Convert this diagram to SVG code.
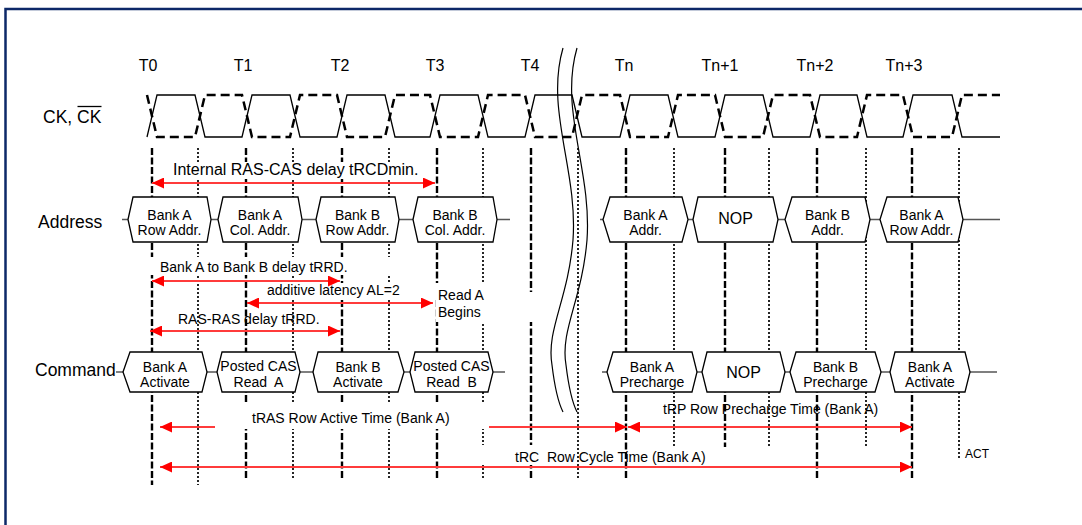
<svg xmlns="http://www.w3.org/2000/svg" width="1082" height="525" viewBox="0 0 1082 525">
<style>
text{font-family:"Liberation Sans",Arial,sans-serif;fill:#000}
.big{font-size:17.5px}
.tl{font-size:16px;text-anchor:middle}
.bx{font-size:14px;text-anchor:middle}
.nop{font-size:16px;text-anchor:middle}
.lb{font-size:14px}
.box{fill:#fff;stroke:#000;stroke-width:1.3}
.bus{stroke:#555;stroke-width:1.5;fill:none}
.vd{stroke:#000;stroke-width:2.4;stroke-dasharray:7 2.5;fill:none}
.vo{stroke:#000;stroke-width:1.7;stroke-dasharray:2 2;fill:none}
.bg{fill:#fff}
.arr{stroke:#ff3b3b;stroke-width:2;fill:none}
.brk{stroke:#000;stroke-width:1.2;fill:none}
</style>
<defs>
<marker id="ah" viewBox="0 0 12 11" refX="12" refY="5.5" markerWidth="12" markerHeight="11" markerUnits="userSpaceOnUse" orient="auto-start-reverse">
<path d="M0,0 L12,5.5 L0,11 z" fill="#ff0000"/>
</marker>
</defs>
<rect x="0" y="0" width="1082" height="525" fill="#fff"/>
<rect x="5.5" y="9" width="1100" height="540" fill="none" stroke="#0d2868" stroke-width="2.5"/>

<g id="grid">
<path class="vd" d="M152,148V485M246,148V480M342,148V480M437,148V480M531,148V480M626,148V480M725,148V447M817,148V480M912,148V480"/>
<path class="vo" d="M198,148V485M293,148V480M389,148V480M483,148V480M578,148V480M674,148V447M769,148V447M866,148V447M959,148V458"/>
</g>

<g id="label-bgs">
<rect class="bg" x="165" y="162" width="262" height="17"/>
<rect class="bg" x="150" y="257" width="252" height="18"/>
<rect class="bg" x="262" y="283" width="225" height="16"/>
<rect class="bg" x="436" y="292" width="104" height="30"/>
<rect class="bg" x="215" y="404" width="272" height="25"/>
<rect class="bg" x="480" y="445" width="80" height="20"/>
</g>

<g id="clock">
<path fill="none" stroke="#000" stroke-width="1.3" d="M147,137 L157,95 L195,95 L205,137 L242,137 L252,95 L290,95 L300,137 L337,137 L347,95 L385,95 L395,137 L430,137 L440,95 L478,95 L488,137 L525,137 L535,95 L572,95 L582,137 L620,137 L630,95 L668,95 L678,137 L715,137 L725,95 L763,95 L773,137 L810,137 L820,95 L857,95 L867,137 L903,137 L913,95 L952,95 L962,137 L1000,137"/>
<path fill="none" stroke="#000" stroke-width="2.5" stroke-dasharray="9 5" d="M147,95 L157,137 L195,137 L205,95 L242,95 L252,137 L290,137 L300,95 L337,95 L347,137 L385,137 L395,95 L430,95 L440,137 L478,137 L488,95 L525,95 L535,137 L572,137 L582,95 L620,95 L630,137 L668,137 L678,95 L715,95 L725,137 L763,137 L773,95 L810,95 L820,137 L857,137 L867,95 L903,95 L913,137 L952,137 L962,95 L1000,95"/>
</g>

<g id="clock-labels">
<text class="tl" x="148" y="71">T0</text>
<text class="tl" x="243" y="71">T1</text>
<text class="tl" x="340" y="71">T2</text>
<text class="tl" x="435" y="71">T3</text>
<text class="tl" x="530" y="71">T4</text>
<text class="tl" x="624" y="71">Tn</text>
<text class="tl" x="720" y="71">Tn+1</text>
<text class="tl" x="815" y="71">Tn+2</text>
<text class="tl" x="904" y="71">Tn+3</text>
</g>

<g id="row-labels">
<text class="big" x="43" y="123">CK, CK</text>
<line x1="77.5" y1="106.5" x2="101.5" y2="106.5" stroke="#000" stroke-width="1.3"/>
<text class="big" x="38" y="228">Address</text>
<text class="big" x="35" y="376">Command</text>
</g>

<g id="buses">
<path class="bus" d="M122,219.5H510M600,219.5H1000M116,372H505M602,372H997"/>
</g>

<g id="addr-1"><polygon class="box" points="128,219.5 133,197 207,197 211,219.5 207,242 133,242"/><text class="bx" x="169.5" y="220">Bank A</text><text class="bx" x="169.5" y="235">Row Addr.</text></g>
<g id="addr-2"><polygon class="box" points="218,219.5 223,197 298,197 302,219.5 298,242 223,242"/><text class="bx" x="260" y="220">Bank A</text><text class="bx" x="260" y="235">Col. Addr.</text></g>
<g id="addr-3"><polygon class="box" points="316,219.5 321,197 395,197 399,219.5 395,242 321,242"/><text class="bx" x="357.5" y="220">Bank B</text><text class="bx" x="357.5" y="235">Row Addr.</text></g>
<g id="addr-4"><polygon class="box" points="413,219.5 418,197 493,197 497,219.5 493,242 418,242"/><text class="bx" x="455" y="220">Bank B</text><text class="bx" x="455" y="235">Col. Addr.</text></g>
<g id="addr-5"><polygon class="box" points="603,219.5 610,197 682,197 688,219.5 682,242 610,242"/><text class="bx" x="645.5" y="220">Bank A</text><text class="bx" x="645.5" y="235">Addr.</text></g>
<g id="addr-6"><polygon class="box" points="693,219.5 698,197 773,197 778,219.5 773,242 698,242"/><text class="nop" x="735.5" y="223.5">NOP</text></g>
<g id="addr-7"><polygon class="box" points="785,219.5 792,197 865,197 870,219.5 865,242 792,242"/><text class="bx" x="827.5" y="220">Bank B</text><text class="bx" x="827.5" y="235">Addr.</text></g>
<g id="addr-8"><polygon class="box" points="880,219.5 887,197 958,197 963,219.5 958,242 887,242"/><text class="bx" x="921.5" y="220">Bank A</text><text class="bx" x="921.5" y="235">Row Addr.</text></g>

<g id="cmd-1"><polygon class="box" points="123,372 130,352 202,352 207,372 202,392 130,392"/><text class="bx" x="165" y="372">Bank A</text><text class="bx" x="165" y="387">Activate</text></g>
<g id="cmd-2"><polygon class="box" points="217,372 222,352 295,352 300,372 295,392 222,392"/><text class="bx" x="258.5" y="371">Posted CAS</text><text class="bx" x="258.5" y="387" xml:space="preserve">Read  A</text></g>
<g id="cmd-3"><polygon class="box" points="313,372 318,352 398,352 404,372 398,392 318,392"/><text class="bx" x="358" y="372">Bank B</text><text class="bx" x="358" y="387">Activate</text></g>
<g id="cmd-4"><polygon class="box" points="410,372 415,352 488,352 493,372 488,392 415,392"/><text class="bx" x="451.5" y="371">Posted CAS</text><text class="bx" x="451.5" y="387" xml:space="preserve">Read  B</text></g>
<g id="cmd-5"><polygon class="box" points="607,372 613,352 692,352 697,372 692,392 613,392"/><text class="bx" x="652" y="372">Bank A</text><text class="bx" x="652" y="387">Precharge</text></g>
<g id="cmd-6"><polygon class="box" points="702,372 707,352 780,352 785,372 780,392 707,392"/><text class="nop" x="743.5" y="377.5">NOP</text></g>
<g id="cmd-7"><polygon class="box" points="790,372 796,352 875,352 881,372 875,392 796,392"/><text class="bx" x="835.5" y="372">Bank B</text><text class="bx" x="835.5" y="387">Precharge</text></g>
<g id="cmd-8"><polygon class="box" points="890,372 895,352 965,352 970,372 965,392 895,392"/><text class="bx" x="930" y="372">Bank A</text><text class="bx" x="930" y="387">Activate</text></g>

<g id="break">
<path class="brk" d="M563,48 C545,110 578,170 573,240 C568,300 546,330 552,365 C555,390 558,402 563,412"/>
<path class="brk" d="M577,48 C559,110 592,170 587,240 C582,300 560,330 566,365 C569,390 572,402 577,412"/>
</g>

<g id="connectors">
<line class="arr" x1="152" y1="183" x2="435" y2="183" marker-start="url(#ah)" marker-end="url(#ah)"/>
<line class="arr" x1="152" y1="281" x2="340" y2="281" marker-start="url(#ah)" marker-end="url(#ah)"/>
<line class="arr" x1="247" y1="303" x2="433" y2="303" marker-start="url(#ah)" marker-end="url(#ah)"/>
<line class="arr" x1="150" y1="331" x2="340" y2="331" marker-start="url(#ah)" marker-end="url(#ah)"/>
<line class="arr" x1="215" y1="427" x2="160" y2="427" marker-end="url(#ah)"/>
<line class="arr" x1="489" y1="427" x2="627" y2="427" marker-end="url(#ah)"/>
<line class="arr" x1="628" y1="427" x2="912" y2="427" marker-start="url(#ah)" marker-end="url(#ah)"/>
<line class="arr" x1="160" y1="467" x2="912" y2="467" marker-start="url(#ah)" marker-end="url(#ah)"/>
</g>

<g id="timing-labels">
<text x="173" y="175" font-size="16">Internal RAS-CAS delay tRCDmin.</text>
<text class="lb" x="160" y="272">Bank A to Bank B delay tRRD.</text>
<text class="lb" x="267" y="295">additive latency AL=2</text>
<text class="lb" x="438" y="300">Read A</text>
<text class="lb" x="438" y="317">Begins</text>
<text class="lb" x="178" y="324">RAS-RAS delay tRRD.</text>
<text class="lb" x="252" y="423">tRAS Row Active Time (Bank A)</text>
<text class="lb" x="663" y="414">tRP Row Precharge Time (Bank A)</text>
<text class="lb" x="515" y="462" xml:space="preserve">tRC  Row Cycle Time (Bank A)</text>
<text x="965" y="458" font-size="12">ACT</text>
</g>
</svg>
